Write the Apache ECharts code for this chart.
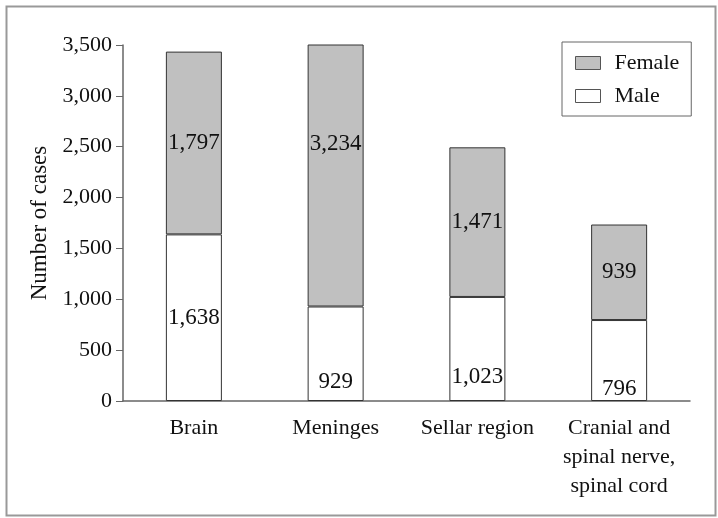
<!DOCTYPE html>
<html><head><meta charset="utf-8">
<script src="https://cdn.jsdelivr.net/npm/echarts@6/dist/echarts.min.js"></script>
<style>html,body{margin:0;padding:0;background:#fff}#c{width:718px;height:518px}</style>
</head><body><div id="c"></div>
<script>
var categories = ['Brain', 'Meninges', 'Sellar region', 'Cranial and\nspinal nerve,\nspinal cord'];
var maleValues = [1638, 929, 1023, 796];
var femaleValues = [1797, 3234, 1471, 939];
var yTicks = [0, 500, 1000, 1500, 2000, 2500, 3000, 3500];

// label nudges (pixels) to mirror the reference placement
var maleLabelNudge = [0, 28, 28, 28];
var femaleLabelNudge = [0, -32, 0, 0];

var FONT = 'Liberation Serif';
var chart = echarts.init(document.getElementById('c'));

function mk(vals, nudges) {
  return vals.map(function (v, i) {
    return { value: v, label: { offset: [0, nudges[i]] } };
  });
}

chart.setOption({
  animation: false,
  textStyle: { fontFamily: FONT },
  graphic: [{
    type: 'rect', left: 4, top: 4, shape: { width: 709, height: 509 },
    style: { fill: 'none', stroke: '#999', lineWidth: 2 }, silent: true
  }],
  grid: { left: 123, right: 28, top: 45, bottom: 117 },
  legend: {
    left: 562, top: 42, orient: 'vertical',
    data: ['Female', 'Male'],
    icon: 'rect',
    itemWidth: 25, itemHeight: 13, itemGap: 11,
    padding: [10, 12, 9, 13],
    borderColor: '#666', borderWidth: 1,
    itemStyle: { borderColor: '#555', borderWidth: 1 },
    textStyle: { fontFamily: FONT, fontSize: 22, color: '#111', padding: [0, 0, 0, 9] }
  },
  xAxis: {
    type: 'category', data: categories,
    axisLine: { lineStyle: { color: '#666', width: 1.5 } },
    axisTick: { length: 7, lineStyle: { color: '#666' } },
    axisLabel: { fontFamily: FONT, fontSize: 22, color: '#111', margin: 13, lineHeight: 29, interval: 0 }
  },
  yAxis: {
    type: 'value', min: yTicks[0], max: yTicks[yTicks.length - 1], interval: yTicks[1] - yTicks[0],
    name: 'Number of cases', nameLocation: 'middle', nameGap: 71,
    nameTextStyle: { fontFamily: FONT, fontSize: 23, color: '#111' },
    axisLine: { show: true, lineStyle: { color: '#666', width: 1.5 } },
    axisTick: { show: true, length: 7, lineStyle: { color: '#666' } },
    splitLine: { show: false },
    axisLabel: {
      fontFamily: FONT, fontSize: 22, color: '#111', margin: 11,
      formatter: function (v) { return v.toLocaleString('en-US'); }
    }
  },
  series: [{
    name: 'Male', type: 'bar', stack: 't', barWidth: 56,
    data: mk(maleValues, maleLabelNudge),
    itemStyle: { color: '#ffffff', borderColor: '#333', borderWidth: 1 },
    label: { show: true, position: 'inside', fontFamily: FONT, fontSize: 23, color: '#111',
      formatter: function (p) { return p.value.toLocaleString('en-US'); } }
  }, {
    name: 'Female', type: 'bar', stack: 't', barWidth: 56,
    data: mk(femaleValues, femaleLabelNudge),
    itemStyle: { color: '#c0c0c0', borderColor: '#333', borderWidth: 1 },
    label: { show: true, position: 'inside', fontFamily: FONT, fontSize: 23, color: '#111',
      formatter: function (p) { return p.value.toLocaleString('en-US'); } }
  }]
});
</script></body></html>
